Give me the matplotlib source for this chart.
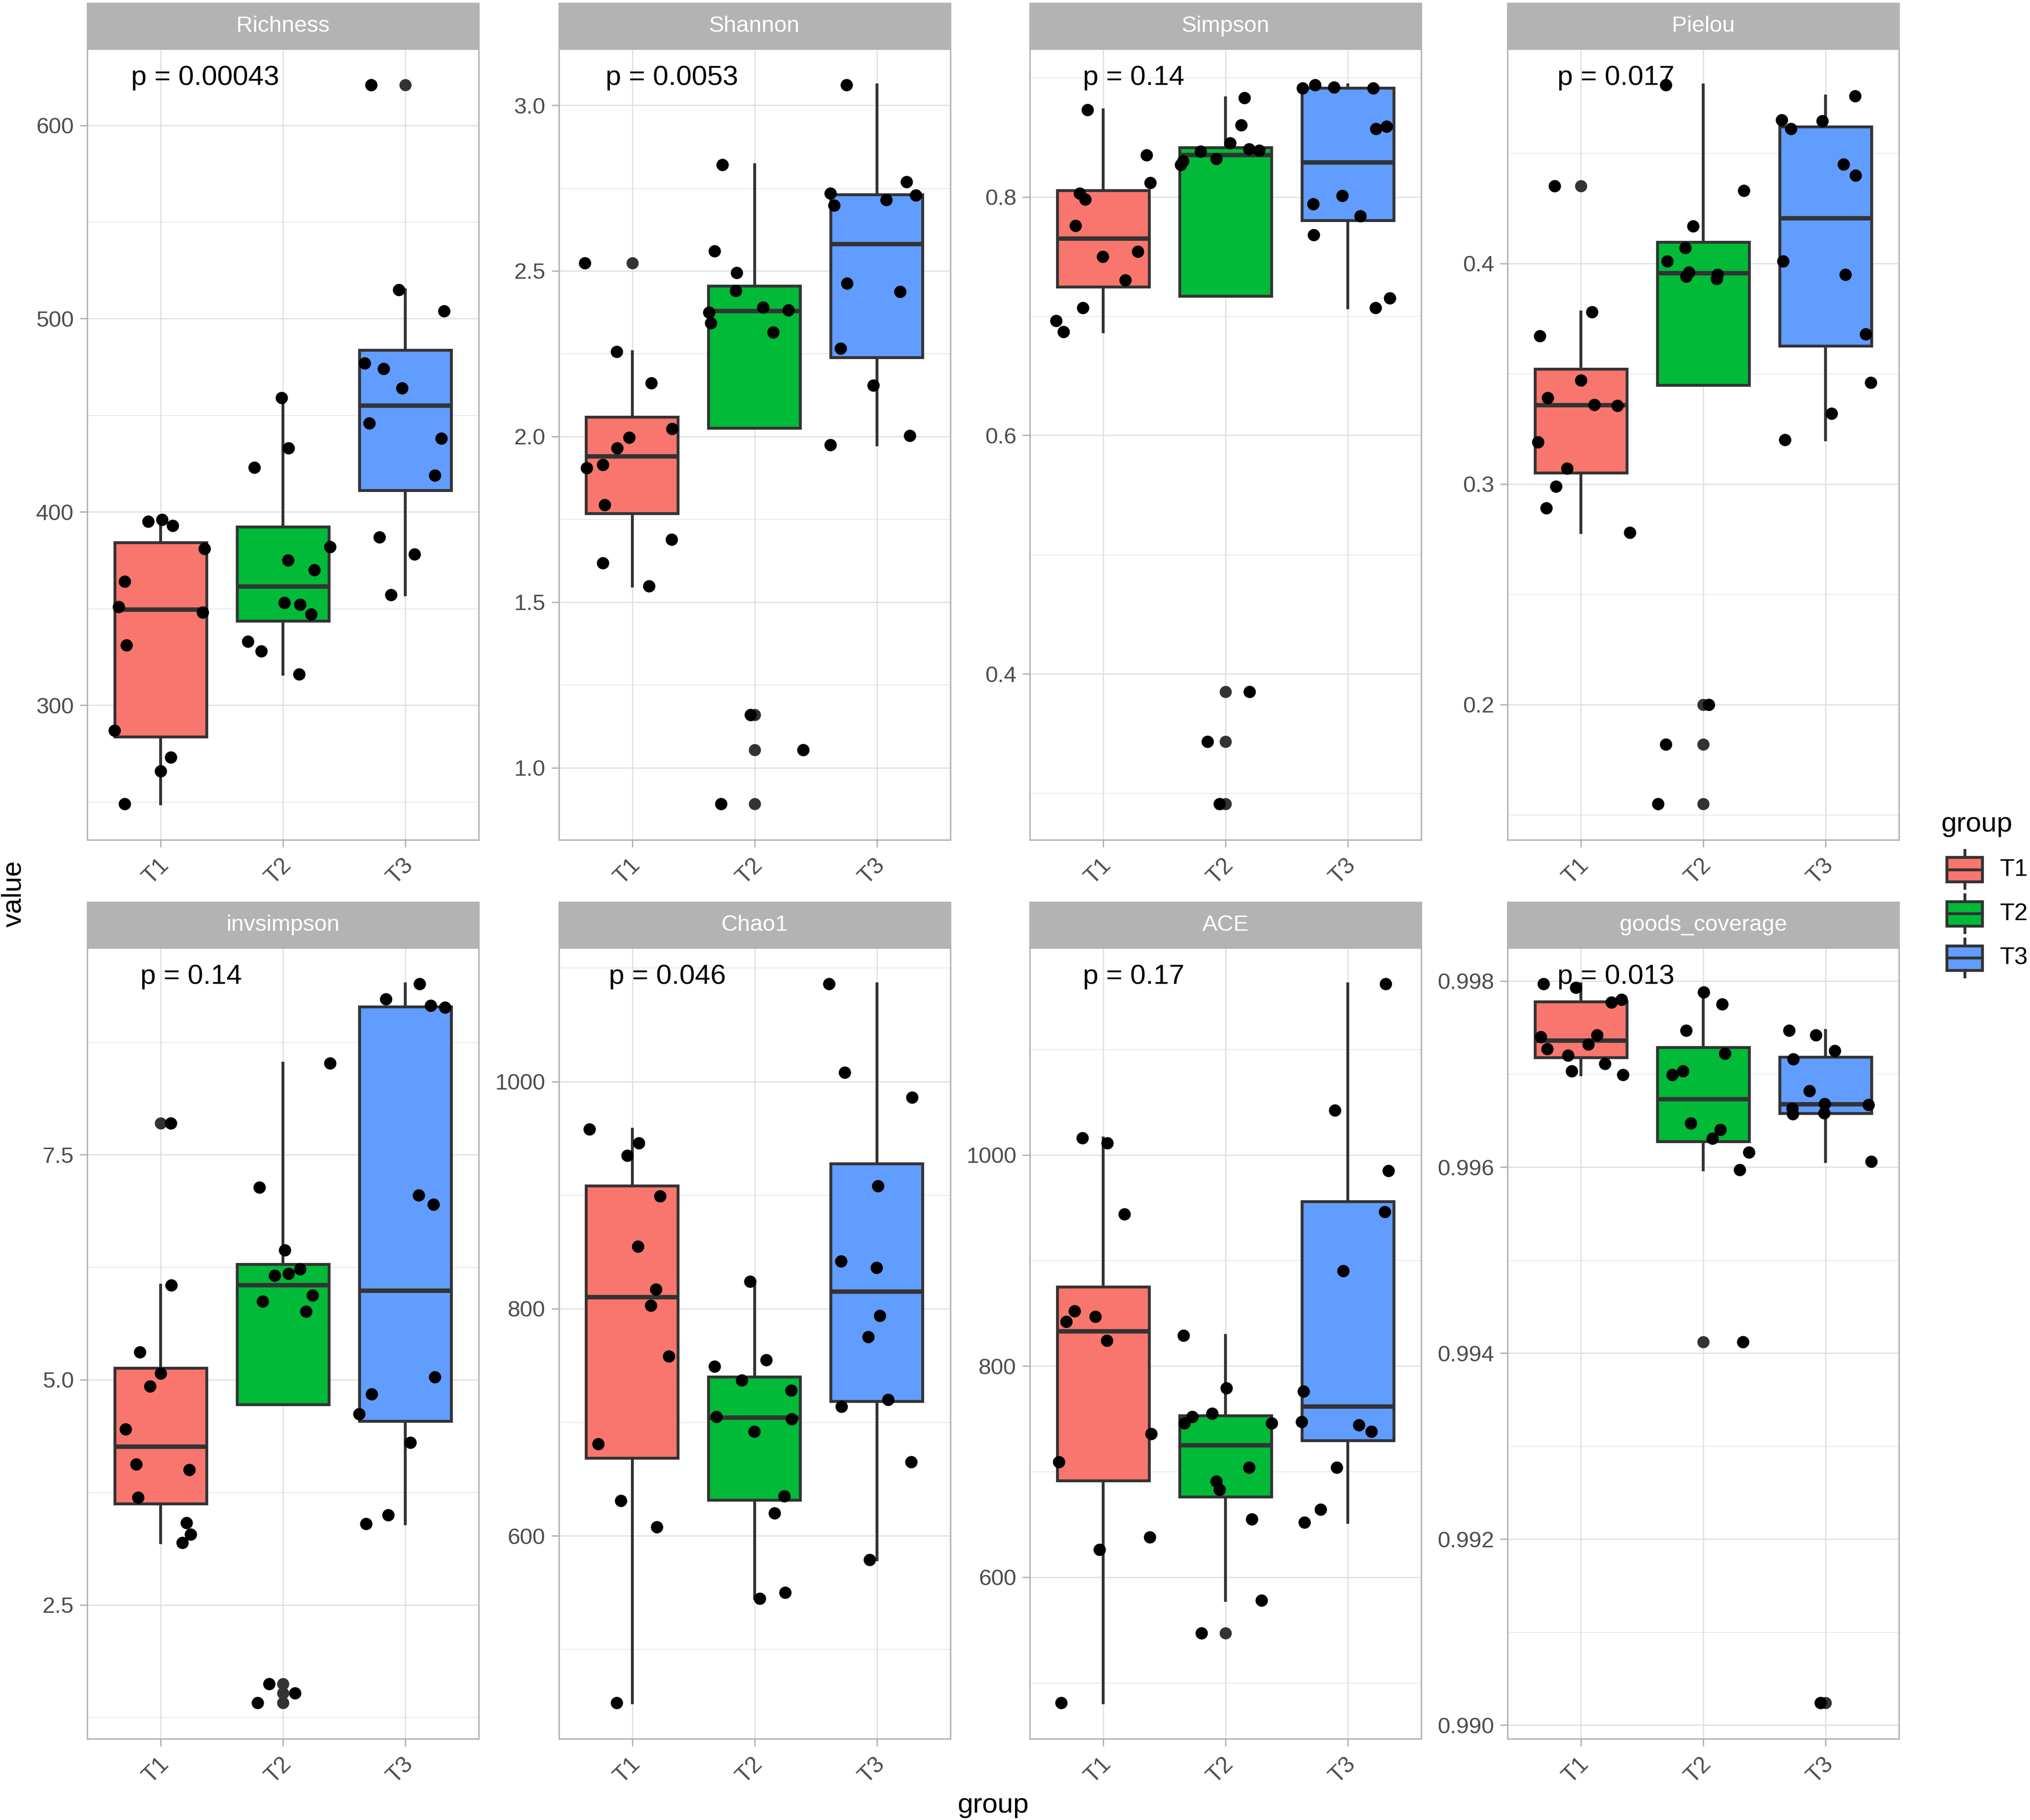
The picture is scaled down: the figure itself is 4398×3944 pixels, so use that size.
import numpy as np
import matplotlib
matplotlib.use("Agg")
import matplotlib.pyplot as plt
from matplotlib.patches import Rectangle
from matplotlib.ticker import MultipleLocator, AutoMinorLocator, FormatStrFormatter
from matplotlib import transforms

plt.rcParams['font.family'] = ['Liberation Sans', 'DejaVu Sans']

# ---- data (12 samples per group) ----
groups = ['T1', 'T2', 'T3']
group_colors = ['#F8766D', '#00BA38', '#619CFF']

metrics = ['Richness', 'Shannon', 'Simpson', 'Pielou',
           'invsimpson', 'Chao1', 'ACE', 'goods_coverage']
p_labels = ['p = 0.00043', 'p = 0.0053', 'p = 0.14', 'p = 0.017',
            'p = 0.14', 'p = 0.046', 'p = 0.17', 'p = 0.013']

richness_t1 = [249, 266, 273, 287, 331, 348, 351, 364, 381, 393, 395, 396]
richness_t2 = [316, 328, 333, 347, 352, 353, 370, 375, 382, 423, 433, 459]
richness_t3 = [357, 378, 387, 419, 438, 446, 464, 474, 477, 504, 515, 621]

shannon_t1 = [1.549, 1.618, 1.689, 1.794, 1.905, 1.915, 1.965, 1.997, 2.024, 2.162, 2.256, 2.523]
shannon_t2 = [0.891, 1.054, 1.159, 2.314, 2.342, 2.375, 2.382, 2.390, 2.440, 2.494, 2.560, 2.820]
shannon_t3 = [1.974, 2.003, 2.155, 2.266, 2.437, 2.463, 2.698, 2.715, 2.729, 2.734, 2.769, 3.062]

simpson_t1 = [0.687, 0.696, 0.707, 0.730, 0.750, 0.754, 0.776, 0.798, 0.803, 0.812, 0.835, 0.873]
simpson_t2 = [0.291, 0.343, 0.385, 0.827, 0.830, 0.832, 0.838, 0.839, 0.840, 0.845, 0.860, 0.883]
simpson_t3 = [0.707, 0.715, 0.768, 0.784, 0.794, 0.801, 0.857, 0.859, 0.891, 0.891, 0.892, 0.894]

pielou_t1 = [0.278, 0.289, 0.299, 0.307, 0.319, 0.3355, 0.336, 0.339, 0.347, 0.367, 0.378, 0.435]
pielou_t2 = [0.155, 0.182, 0.200, 0.393, 0.394, 0.395, 0.396, 0.401, 0.407, 0.417, 0.433, 0.481]
pielou_t3 = [0.320, 0.332, 0.346, 0.368, 0.395, 0.401, 0.440, 0.445, 0.461, 0.4645, 0.465, 0.476]

invsimpson_t1 = [3.19, 3.28, 3.41, 3.69, 4.00, 4.06, 4.45, 4.93, 5.07, 5.31, 6.05, 7.85]
invsimpson_t2 = [1.41, 1.52, 1.62, 5.76, 5.87, 5.94, 6.16, 6.18, 6.23, 6.44, 7.14, 8.52]
invsimpson_t3 = [3.40, 3.50, 4.30, 4.62, 4.84, 5.03, 6.95, 7.05, 9.14, 9.16, 9.23, 9.40]

chao1_t1 = [453, 608, 631, 681, 758, 803, 817, 855, 899, 935, 946, 958]
chao1_t2 = [545, 550, 620, 635, 692, 703, 705, 728, 737, 749, 755, 824]
chao1_t3 = [579, 665, 714, 720, 775, 794, 836, 842, 908, 986, 1008, 1086]

ace_t1 = [481, 626, 638, 709, 736, 824, 842, 847, 852, 944, 1011, 1016]
ace_t2 = [547, 578, 655, 683, 691, 704, 746, 746, 752, 755, 779, 829]
ace_t3 = [652, 664, 704, 738, 744, 747, 776, 890, 946, 985, 1042, 1162]

goods_t1 = [0.99699, 0.99703, 0.99711, 0.99720, 0.99727, 0.99732,
            0.99740, 0.99742, 0.99777, 0.99780, 0.99793, 0.99797]
goods_t2 = [0.99412, 0.99597, 0.99616, 0.99631, 0.99640, 0.99647,
            0.99699, 0.99703, 0.99722, 0.99747, 0.99775, 0.99788]
goods_t3 = [0.99024, 0.99606, 0.99657, 0.99658, 0.99663, 0.99667,
            0.99668, 0.99682, 0.99716, 0.99725, 0.99742, 0.99747]

panel_data = [
    [richness_t1, richness_t2, richness_t3],
    [shannon_t1, shannon_t2, shannon_t3],
    [simpson_t1, simpson_t2, simpson_t3],
    [pielou_t1, pielou_t2, pielou_t3],
    [invsimpson_t1, invsimpson_t2, invsimpson_t3],
    [chao1_t1, chao1_t2, chao1_t3],
    [ace_t1, ace_t2, ace_t3],
    [goods_t1, goods_t2, goods_t3],
]

# axis settings per panel
major_steps = [100, 0.5, 0.2, 0.1, 2.5, 200, 200, 0.002]
tick_formats = ['%d', '%.1f', '%.1f', '%.1f', '%.1f', '%d', '%d', '%.3f']

# ---- layout (pixels of the 4398x3944 output) ----
W, H = 4398, 3944
DPI = 300
fig = plt.figure(figsize=(W / DPI, H / DPI), dpi=DPI)

col_left = [189.4, 1210.6, 2231.2, 3266.2]
panel_w = 848
row_top = [105.7, 2054]
panel_h = 1714
strip_h = 99

edge = '#333333'
grey70 = '#b3b3b3'
grid_col = '#dedede'

rng = np.random.default_rng(11)
axes = []
for i, (name, data) in enumerate(zip(metrics, panel_data)):
    r, c = divmod(i, 4)
    x0 = col_left[c] / W
    y0 = 1 - (row_top[r] + panel_h) / H
    ax = fig.add_axes([x0, y0, panel_w / W, panel_h / H])
    axes.append(ax)

    bp = ax.boxplot(data, positions=[1, 2, 3], widths=0.75, patch_artist=True,
                    whis=1.5, showcaps=False,
                    boxprops=dict(edgecolor=edge, linewidth=1.5, zorder=2),
                    medianprops=dict(color=edge, linewidth=2.3, zorder=3),
                    whiskerprops=dict(color=edge, linewidth=1.5, zorder=1.5),
                    flierprops=dict(marker='o', markerfacecolor=edge,
                                    markeredgecolor='none', markersize=6.3,
                                    zorder=3))
    for patch, col in zip(bp['boxes'], group_colors):
        patch.set_facecolor(col)

    for k, vals in enumerate(data):
        xs = k + 1 + rng.uniform(-0.4, 0.4, len(vals))
        ax.scatter(xs, vals, s=6.4 ** 2, color='black', linewidths=0, zorder=4)

    allv = np.concatenate([np.asarray(v, float) for v in data])
    lo, hi = allv.min(), allv.max()
    pad = 0.05 * (hi - lo)
    ax.set_ylim(lo - pad, hi + pad)
    ax.set_xlim(0.4, 3.6)

    ax.yaxis.set_major_locator(MultipleLocator(major_steps[i]))
    ax.yaxis.set_minor_locator(AutoMinorLocator(2))
    ax.yaxis.set_major_formatter(FormatStrFormatter(tick_formats[i]))
    ax.set_xticks([1, 2, 3])
    ax.set_xticklabels(groups)

    ax.set_axisbelow(True)
    ax.grid(which='major', axis='both', color=grid_col, linewidth=0.6)
    ax.grid(which='minor', axis='y', color=grid_col, linewidth=0.3)
    for sp in ax.spines.values():
        sp.set_color(grey70)
        sp.set_linewidth(0.75)
    ax.tick_params(axis='y', which='major', length=3.9, width=0.7, color=grey70,
                   labelcolor='#4d4d4d', labelsize=11.8, pad=3.1)
    ax.tick_params(axis='y', which='minor', length=0)
    ax.tick_params(axis='x', length=3.9, width=0.7, color=grey70,
                   labelcolor='#4d4d4d', labelsize=12, pad=7.5)
    nudge = transforms.ScaledTranslation(10 / DPI, 0, fig.dpi_scale_trans)
    for tk in ax.xaxis.get_major_ticks():
        lab = tk.label1
        lab.set_rotation(45)
        lab.set_ha('right')
        lab.set_va('center')
        lab.set_rotation_mode('anchor')
        lab.set_transform(lab.get_transform() + nudge)

    ax.text(1, hi, p_labels[i], ha='left', va='baseline', fontsize=14.5,
            color='black', zorder=5)

    # facet strip
    sax = fig.add_axes([x0, 1 - row_top[r] / H, panel_w / W, strip_h / H])
    sax.set_facecolor(grey70)
    sax.set_xticks([])
    sax.set_yticks([])
    for sp in sax.spines.values():
        sp.set_color(grey70)
        sp.set_linewidth(0.75)
    sax.text(0.5, 0.5, name, ha='center', va='center', color='white',
             fontsize=11.8, transform=sax.transAxes)

# shift p labels left by 20% of their width (ggpubr placement)
fig.canvas.draw()
renderer = fig.canvas.get_renderer()
for ax in axes:
    t = ax.texts[-1]
    w = t.get_window_extent(renderer).width
    t.set_transform(ax.transData + transforms.ScaledTranslation(
        -0.2 * w / DPI, 0, fig.dpi_scale_trans))

# overlay in pixel coordinates for titles and legend
ov = fig.add_axes([0, 0, 1, 1], facecolor='none')
ov.set_xlim(0, W)
ov.set_ylim(H, 0)
ov.axis('off')

ov.text(30, 1937, 'value', rotation=90, ha='center', va='center', fontsize=14.5)
ov.text(2152, 3940, 'group', ha='center', va='bottom', fontsize=14.5)

ov.text(4206, 1802, 'group', ha='left', va='baseline', fontsize=14.5)
key_centers = [1884.5, 1980, 2076]
for gname, col, cy in zip(groups, group_colors, key_centers):
    ov.add_patch(Rectangle((4218, cy - 26.5), 77, 53, facecolor=col,
                           edgecolor=edge, linewidth=1.5))
    ov.plot([4218, 4295], [cy, cy], color=edge, linewidth=1.5)
    ov.plot([4256.5, 4256.5], [cy - 41.5, cy - 26.5], color=edge, linewidth=1.5)
    ov.plot([4256.5, 4256.5], [cy + 26.5, cy + 40.5], color=edge, linewidth=1.5)
    ov.text(4333, cy, gname, ha='left', va='center', fontsize=12.5)

fig.savefig('out.png', dpi=DPI)
